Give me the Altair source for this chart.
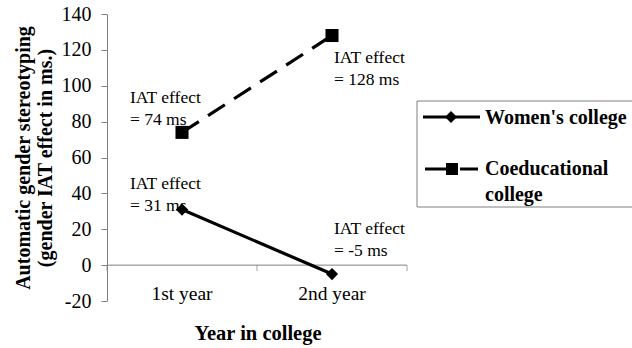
import altair as alt
import pandas as pd

years = ["1st year", "2nd year"]
series = ["Women's college", "Coeducational college"]
women = [31, -5]
coed = [74, 128]
y_ticks = [-20, 0, 20, 40, 60, 80, 100, 120, 140]

SERIF = "Liberation Serif"
LEFT, TOP = 107, 14
W, H = 300, 287

rows = []
for s, vals in zip(series, [women, coed]):
    for yr, v in zip(years, vals):
        rows.append({"year": yr, "value": v, "series": s})
df = pd.DataFrame(rows)

xenc = alt.X("year:N", scale=alt.Scale(type="band", domain=years, paddingInner=0, paddingOuter=0), axis=None)
yscale = alt.Scale(domain=[-20, 140], nice=False, zero=False)
yaxis = alt.Axis(values=y_ticks, grid=False, tickSize=6, tickColor="#808080",
                 domainColor="#808080", labelFont=SERIF, labelFontSize=20,
                 labelColor="black", labelPadding=10, labelOverlap=False,
                 labelExpr="toString(datum.value)",
                 title=["Automatic gender stereotyping", "(gender IAT effect in ms.)"],
                 titleFont=SERIF, titleFontSize=20, titleFontWeight="bold",
                 titleColor="black", titlePadding=6, titleLineHeight=22)
yenc = alt.Y("value:Q", scale=yscale, axis=yaxis)

base = alt.Chart(df)

# x axis at y = 0
x_axis = alt.Chart(pd.DataFrame({"value": [0]})).mark_rule(color="#808080", strokeWidth=1).encode(
    x=alt.value(0), x2=alt.value(W), y=yenc)
x_ticks = alt.Chart(pd.DataFrame({"p": [0, 150, 300]})).mark_tick(
    color="#808080", orient="vertical", size=6, thickness=1).encode(
    x=alt.X("p:Q", scale=alt.Scale(domain=[0, 300], range=[0, W]), axis=None),
    y=alt.value(265 - TOP + 3))
x_labels = alt.Chart(pd.DataFrame({"year": years})).mark_text(
    font=SERIF, fontSize=19.5, baseline="alphabetic", color="black").encode(
    x=xenc, y=alt.value(300 - TOP), text="year:N")
x_title = alt.Chart(pd.DataFrame({"t": ["Year in college"]})).mark_text(
    font=SERIF, fontSize=20.5, fontWeight="bold", baseline="alphabetic", color="black").encode(
    x=alt.value(W / 2 + 1), y=alt.value(340 - TOP), text="t:N")

w_line = base.transform_filter(alt.datum.series == series[0]).mark_line(
    color="black", strokeWidth=3.2).encode(x=xenc, y=yenc)
c_line = base.transform_filter(alt.datum.series == series[1]).mark_line(
    color="black", strokeWidth=3.2, strokeDash=[20, 11]).encode(x=xenc, y=yenc)
w_pts = base.transform_filter(alt.datum.series == series[0]).mark_point(
    shape="diamond", filled=True, color="black", size=150, opacity=1).encode(x=xenc, y=yenc)
c_pts = base.transform_filter(alt.datum.series == series[1]).mark_point(
    shape="square", filled=True, color="black", size=170, opacity=1).encode(x=xenc, y=yenc)

# annotations anchored to data points
offsets = {
    (series[1], years[0]): (-52, -43),
    (series[1], years[1]): (2, 13),
    (series[0], years[0]): (-52, -35),
    (series[0], years[1]): (2, -54),
}
ann_layers = []
for s, vals in zip(series, [women, coed]):
    for yr, v in zip(years, vals):
        dx, dy = offsets[(s, yr)]
        d = pd.DataFrame({"year": [yr], "value": [v], "label": [f"IAT effect\n= {v} ms"]})
        ann_layers.append(alt.Chart(d).mark_text(
            font=SERIF, fontSize=17.5, align="left", baseline="top", dx=dx, dy=dy,
            lineBreak="\n", lineHeight=22, color="black").encode(
            x=xenc, y=yenc, text="label:N"))

# legend (drawn manually)
LX = 417 - LEFT
LY = 101 - TOP
one = pd.DataFrame({"a": [0]})
legend_box = alt.Chart(one).mark_rect(
    fill="white", stroke="#808080", strokeWidth=1).encode(
    x=alt.value(LX), x2=alt.value(LX + 240), y=alt.value(LY), y2=alt.value(LY + 106))
leg_w_line = alt.Chart(one).mark_rule(color="black", strokeWidth=3).encode(
    x=alt.value(LX + 6), x2=alt.value(LX + 63), y=alt.value(LY + 16))
leg_w_pt = alt.Chart(one).mark_point(
    shape="diamond", filled=True, color="black", size=144, opacity=1).encode(
    x=alt.value(LX + 34), y=alt.value(LY + 16))
leg_c_line1 = alt.Chart(one).mark_rule(color="black", strokeWidth=3).encode(
    x=alt.value(LX + 8), x2=alt.value(LX + 30), y=alt.value(LY + 68))
leg_c_line2 = alt.Chart(one).mark_rule(color="black", strokeWidth=3).encode(
    x=alt.value(LX + 43), x2=alt.value(LX + 61), y=alt.value(LY + 68))
leg_c_pt = alt.Chart(one).mark_point(
    shape="square", filled=True, color="black", size=144, opacity=1).encode(
    x=alt.value(LX + 35), y=alt.value(LY + 68))
leg_text1 = alt.Chart(pd.DataFrame({"t": [series[0]]})).mark_text(
    font=SERIF, fontSize=20, fontWeight="bold", align="left", baseline="middle", color="black").encode(
    x=alt.value(LX + 68), y=alt.value(LY + 17), text="t:N")
leg_text2 = alt.Chart(pd.DataFrame({"t": ["Coeducational\ncollege"]})).mark_text(
    font=SERIF, fontSize=20, fontWeight="bold", align="left", baseline="top",
    lineBreak="\n", lineHeight=26, color="black").encode(
    x=alt.value(LX + 68), y=alt.value(LY + 58), text="t:N")

chart = alt.layer(
    x_axis, x_ticks, x_labels, x_title,
    c_line, w_line, c_pts, w_pts,
    *ann_layers,
    legend_box, leg_w_line, leg_w_pt, leg_c_line1, leg_c_line2, leg_c_pt, leg_text1, leg_text2,
).resolve_scale(x="independent").properties(
    width=W, height=H,
    autosize=alt.AutoSizeParams(type="none"),
    padding={"left": LEFT, "top": TOP, "right": 632 - LEFT - W, "bottom": 348 - TOP - H},
    background="white",
).configure(font=SERIF).configure_text(font=SERIF).configure_view(stroke=None)

chart.save("out.html", embed_options={"renderer": "svg", "actions": False})
